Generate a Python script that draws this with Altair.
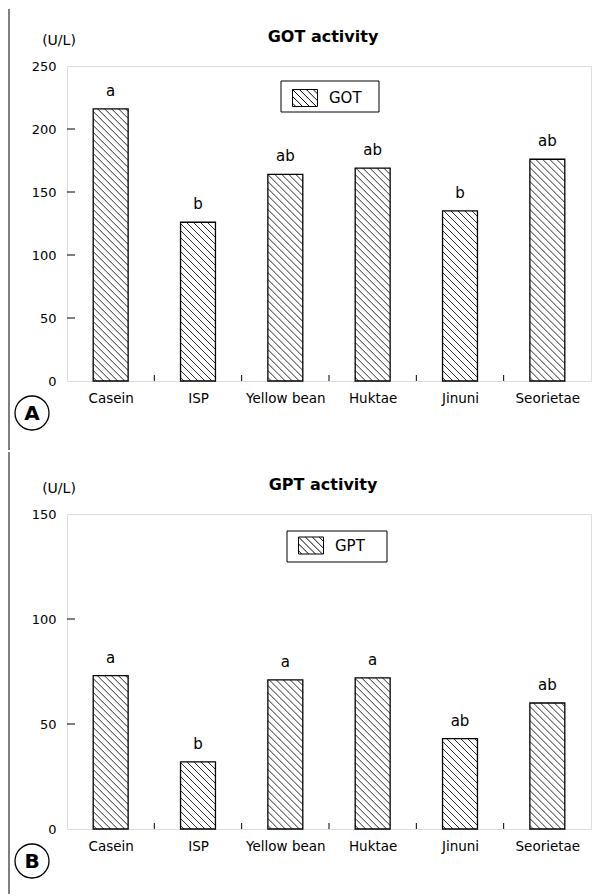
import altair as alt
import pandas as pd

categories = ["Casein", "ISP", "Yellow bean", "Huktae", "Jinuni", "Seorietae"]
got_values = [216, 126, 164, 169, 135, 176]
got_letters = ["a", "b", "ab", "ab", "b", "ab"]
gpt_values = [73, 32, 71, 72, 43, 60]
gpt_letters = ["a", "b", "a", "a", "ab", "ab"]
got_ticks = [0, 50, 100, 150, 200, 250]
gpt_ticks = [0, 50, 100, 150]

W = 524
H = 315
FONT = "DejaVu Sans"
BAR_HALF = 0.2
STEP = W / len(categories)


def hatch_df(values, ymax, spacing=7.0):
    ppu = H / ymax
    bw = 2 * BAR_HALF * STEP
    rows = []
    for i, v in enumerate(values):
        h = v * ppu
        c = spacing / 2
        while c < bw + h:
            x0 = max(0.0, c - h)
            x1 = min(bw, c)
            rows.append({
                "hx": i + 0.5 - BAR_HALF + x0 / STEP,
                "hx2": i + 0.5 - BAR_HALF + x1 / STEP,
                "hy": (c - x0) / ppu,
                "hy2": (c - x1) / ppu,
            })
            c += spacing
    return pd.DataFrame(rows)


def swatch_path():
    hw, hh = 1.0, 0.68
    parts = [f"M{-hw},{-hh}H{hw}V{hh}H{-hw}Z"]
    for c in [-1.1, -0.55, 0.0, 0.55, 1.1, 1.65]:
        y0 = max(0.0, -c)
        y1 = min(2 * hh, 2 * hw - c)
        if y1 > y0:
            parts.append(f"M{y0 + c - hw:.3f},{y0 - hh:.3f}L{y1 + c - hw:.3f},{y1 - hh:.3f}")
    return "".join(parts)


def panel(values, letters, ticks, ymax, title, series, tag,
          box, legend_xy, line_span):
    df = pd.DataFrame({
        "idx": list(range(len(categories))),
        "cat": categories,
        "value": values,
        "letter": letters,
        "series": [series] * len(categories),
    })
    df["x0"] = df["idx"] + 0.5 - BAR_HALF
    df["x1"] = df["idx"] + 0.5 + BAR_HALF
    df["xc"] = df["idx"] + 0.5

    xscale = alt.Scale(domain=[0, len(categories)], nice=False, zero=False)
    yscale = alt.Scale(domain=[0, ymax], nice=False)
    label_expr = "[" + ",".join(f"'{c}'" for c in categories) + "][floor(datum.value)]"
    xaxis = alt.Axis(values=[i + 0.5 for i in range(len(categories))], labelExpr=label_expr,
                     ticks=False, domain=False, grid=False, title=None, labelFont=FONT,
                     labelFontSize=13.5, labelPadding=10, labelColor="black")
    yaxis = alt.Axis(values=ticks, ticks=False, domain=False, grid=False, title=None,
                     labelFont=FONT, labelFontSize=13, labelPadding=11, labelColor="black")

    def X(f):
        return alt.X(f, scale=xscale, axis=xaxis)

    def Y(f):
        return alt.Y(f, scale=yscale, axis=yaxis)

    base = alt.Chart(df)

    legend_box = alt.Chart(pd.DataFrame({"k": [0]})).mark_rect(
        fill="white", stroke="black", strokeWidth=1).encode(
        x=alt.value(box[0]), x2=alt.value(box[1]), y=alt.value(box[2]), y2=alt.value(box[3]))

    fill = base.mark_rect(strokeWidth=0).encode(
        x=X("x0:Q"), x2="x1:Q",
        y=Y("value:Q"), y2=alt.datum(0),
        fill=alt.Fill("series:N", scale=alt.Scale(range=["white"]),
                      legend=alt.Legend(title=None, orient="none", legendX=legend_xy[0],
                                        legendY=legend_xy[1], symbolType=swatch_path(),
                                        symbolSize=625, symbolStrokeColor="black",
                                        symbolStrokeWidth=1, labelFont=FONT, labelFontSize=15,
                                        labelOffset=11, labelColor="black", padding=0)),
    )

    hatch = alt.Chart(hatch_df(values, ymax)).mark_rule(color="#111", strokeWidth=0.9).encode(
        x=X("hx:Q"), x2="hx2:Q", y=Y("hy:Q"), y2="hy2:Q")

    outline = base.mark_rect(fillOpacity=0, stroke="black", strokeWidth=1.3).encode(
        x=X("x0:Q"), x2="x1:Q", y=Y("value:Q"), y2=alt.datum(0))

    letters_t = base.mark_text(font=FONT, fontSize=15, baseline="alphabetic", dy=-13,
                               color="black").encode(
        x=X("xc:Q"), y=Y("value:Q"), text="letter:N")

    yt = alt.Chart(pd.DataFrame({"t": ticks[1:-1]})).mark_rule(color="black", strokeWidth=1).encode(
        y=Y("t:Q"), x=alt.value(0), x2=alt.value(8))
    xt = alt.Chart(pd.DataFrame({"b": list(range(1, len(categories)))})).mark_rule(
        color="black", strokeWidth=1).encode(
        x=X("b:Q"), y=alt.value(H), y2=alt.value(H - 6))

    title_t = alt.Chart(pd.DataFrame({"t": [title]})).mark_text(
        font=FONT, fontSize=16, fontWeight="bold", color="black").encode(
        x=alt.value(256), y=alt.value(-29), text="t:N")
    unit_t = alt.Chart(pd.DataFrame({"t": ["(U/L)"]})).mark_text(
        font=FONT, fontSize=14, color="black").encode(
        x=alt.value(-8), y=alt.value(-25), text="t:N")
    circ = alt.Chart(pd.DataFrame({"t": [tag]})).mark_point(
        shape="circle", size=34 * 34, stroke="black", strokeWidth=1.3, filled=False,
        opacity=1).encode(x=alt.value(-35), y=alt.value(347))
    tag_t = alt.Chart(pd.DataFrame({"t": [tag]})).mark_text(
        font=FONT, fontSize=20, fontWeight="bold", color="black", baseline="middle").encode(
        x=alt.value(-35), y=alt.value(348), text="t:N")
    left_line = alt.Chart(pd.DataFrame({"k": [0]})).mark_rule(color="black", strokeWidth=1).encode(
        x=alt.value(-58), y=alt.value(line_span[0]), y2=alt.value(line_span[1]))

    return alt.layer(legend_box, fill, hatch, outline, letters_t, yt, xt, title_t, unit_t,
                     circ, tag_t, left_line).properties(width=W, height=H)


top = panel(got_values, got_letters, got_ticks, 250, "GOT activity", "GOT", "A",
            (214, 312, 15, 46), (225, 19), (-57, 384))
bottom = panel(gpt_values, gpt_letters, gpt_ticks, 150, "GPT activity", "GPT", "B",
               (220, 320, 17, 48), (231, 18.5), (-62, 380))

chart = alt.vconcat(top, bottom, spacing=0, padding={"left": 0, "top": 0, "right": 0, "bottom": 0}
                    ).resolve_scale(fill="independent").resolve_legend(fill="independent"
                    ).configure_view(stroke="black", strokeWidth=1.2
                    ).configure(background="white")

chart.save("out.html", embed_options={"renderer": "svg", "actions": False})
